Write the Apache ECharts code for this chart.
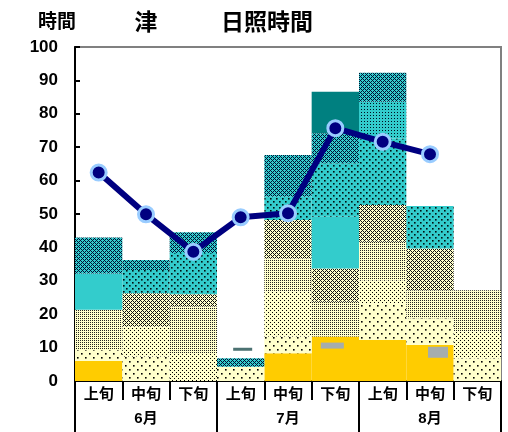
<!DOCTYPE html>
<html>
<head>
<meta charset="utf-8">
<script src="https://cdn.jsdelivr.net/npm/echarts@6/dist/echarts.min.js"></script>
<style>
html,body{margin:0;padding:0;background:#fff}
#chart{width:508px;height:432px}
</style>
</head>
<body>
<div id="chart"></div>
<script>
// 旬 categories and month groups
const decades = ['上旬', '中旬', '下旬', '上旬', '中旬', '下旬', '上旬', '中旬', '下旬'];
const months = ['6月', '7月', '8月'];

// Band thickness (hours) per 旬, stacked bottom to top
const bandGold        = [6,    0,   0,    0,   8.3,  13.3, 12.3, 10.8, 0];
const bandLightSparse = [3.3,  7.3, 0,    4.3, 5,    0,    11,   8,    6.8];
const bandLightDots   = [0,    9,   8.4,  0,   13.4, 0,    6.9,  0,    8];
const bandKhakiDots   = [12,   0,   14,   0,   10,   10.4, 11.5, 8.4,  12.4];
const bandKhakiHatch  = [0,    10,  3.6,  0,   11.5, 10,   11,   12.5, 0];
const bandCyan        = [10.9, 0,   0,    0,   0,    15.5, 0,    0,    0];
const bandCyanSparse  = [0,    6.9, 12.3, 0,   7,    16,   19.9, 12.7, 0];
const bandCyanDense   = [0,    0,   0,    0,   0,    0,    11,   0,    0];
const bandTealHatch   = [10.8, 3,   6.2,  2.5, 12.5, 9,    8.7,  0,    0];
const bandTeal        = [0,    0,   0,    0,   0,    12.4, 0,    0,    0];

// Observed sunshine duration (hours) per 旬
const sunshine = [62.4, 49.9, 38.7, 49.0, 50.2, 75.7, 71.6, 67.9, null];

// Small stray marks near the bottom of some bars
const strayIndex = [3, 5, 7];
const strayValue = [9.5, 10.6, 8.6];

// Tiled fill patterns
function tile(w, h, bg, fg, pts, dot) {
  const c = document.createElement('canvas');
  c.width = w; c.height = h;
  const g = c.getContext('2d');
  g.fillStyle = bg; g.fillRect(0, 0, w, h);
  g.fillStyle = fg;
  const d = dot || 1;
  pts.forEach(p => g.fillRect(p[0], p[1], d, d));
  return { image: c, repeat: 'repeat' };
}
function hatchPts() {
  const pts = [];
  for (let x = 0; x < 4; x++) for (let y = 0; y < 4; y++) {
    if ((x + y) % 4 === 0 || (x - y + 4) % 4 === 0) pts.push([x, y]);
  }
  return pts;
}
const LY = '#FFFFCC', CY = '#33CCCC';
const fills = {
  gold: '#FFCC00',
  lightSparse: tile(8, 8, LY, '#000', [[1, 1], [5, 5]], 1.6),
  lightDots: tile(4, 4, LY, '#000', [[0, 0], [2, 2]]),
  khakiDots: tile(2, 2, LY, '#222', [[0, 0]]),
  khakiHatch: tile(4, 4, LY, '#111', hatchPts()),
  cyan: CY,
  cyanSparse: tile(6, 6, CY, '#011', [[0, 0], [3, 3]], 1.6),
  cyanDense: tile(3, 3, CY, '#012', [[1, 1]]),
  tealHatch: tile(4, 4, CY, '#013', hatchPts()),
  teal: '#008080'
};

const bands = [
  ['gold', bandGold], ['lightSparse', bandLightSparse], ['lightDots', bandLightDots],
  ['khakiDots', bandKhakiDots], ['khakiHatch', bandKhakiHatch], ['cyan', bandCyan],
  ['cyanSparse', bandCyanSparse], ['cyanDense', bandCyanDense],
  ['tealHatch', bandTealHatch], ['teal', bandTeal]
];

const barSeries = bands.map(([key, vals]) => ({
  type: 'bar',
  name: key,
  stack: 'band',
  xAxisIndex: 0,
  barCategoryGap: '0%',
  data: vals,
  itemStyle: { color: fills[key] },
  silent: true
}));

const strayStyles = [
  { size: [19, 3], offset: [2, 0], color: '#1F4F4F' },
  { size: [23, 6], offset: [-3, 0], color: '#8FA5D8' },
  { size: [20, 11], offset: [8, 0], color: '#8FA5D8' }
];

const chart = echarts.init(document.getElementById('chart'), null, { renderer: 'canvas' });
const bold = 'bold';
chart.setOption({
  animation: false,
  backgroundColor: '#fff',
  grid: {
    left: 75, right: 7, top: 47, bottom: 51,
    show: true, borderColor: '#808080', borderWidth: 2
  },
  graphic: [
    { type: 'text', x: 57, y: 21, style: { text: '時間', font: 'bold 19px "Noto Sans CJK JP"', fill: '#000', align: 'center', verticalAlign: 'middle' } },
    { type: 'text', x: 146, y: 21, style: { text: '津', font: 'bold 23px "Noto Sans CJK JP"', fill: '#000', align: 'center', verticalAlign: 'middle' } },
    { type: 'text', x: 267, y: 21, style: { text: '日照時間', font: 'bold 23px "Noto Sans CJK JP"', fill: '#000', align: 'center', verticalAlign: 'middle' } }
  ],
  xAxis: [
    {
      type: 'category', data: decades, position: 'bottom',
      axisLine: { show: true, lineStyle: { color: '#000', width: 2 } },
      axisTick: { show: true, interval: 0, length: 19, lineStyle: { color: '#000', width: 2 } },
      axisLabel: { interval: 0, margin: 5, color: '#000', fontSize: 15, fontWeight: bold, fontFamily: 'Noto Sans CJK JP' },
      splitLine: { show: false }
    },
    {
      type: 'category', data: months, position: 'bottom',
      axisLine: { show: false },
      axisTick: { show: true, interval: 0, length: 51, lineStyle: { color: '#000', width: 2 } },
      axisLabel: { interval: 0, margin: 30, color: '#000', fontSize: 15, fontWeight: bold, fontFamily: '"Liberation Sans","Noto Sans CJK JP"' },
      splitLine: { show: false }
    }
  ],
  yAxis: {
    type: 'value', min: 0, max: 100, interval: 10,
    axisLine: { show: true, lineStyle: { color: '#000', width: 2 } },
    axisTick: { show: true, inside: true, length: 5, lineStyle: { color: '#000', width: 2 } },
    axisLabel: { color: '#000', fontSize: 17, fontWeight: bold, fontFamily: 'Liberation Sans', margin: 17 },
    splitLine: { show: false }
  },
  series: barSeries.concat([
    {
      type: 'scatter', xAxisIndex: 0, z: 3, silent: true,
      data: strayIndex.map((ix, i) => ({
        value: [ix, strayValue[i]],
        symbol: 'rect',
        symbolSize: strayStyles[i].size,
        symbolOffset: strayStyles[i].offset,
        itemStyle: { color: strayStyles[i].color }
      }))
    },
    {
      type: 'line', xAxisIndex: 0, z: 10, data: sunshine,
      connectNulls: false,
      lineStyle: { color: '#000080', width: 6 },
      symbol: 'circle', symbolSize: 15,
      itemStyle: { color: '#000080', borderColor: '#99CCFF', borderWidth: 3 },
      silent: true
    }
  ])
});
</script>
</body>
</html>
